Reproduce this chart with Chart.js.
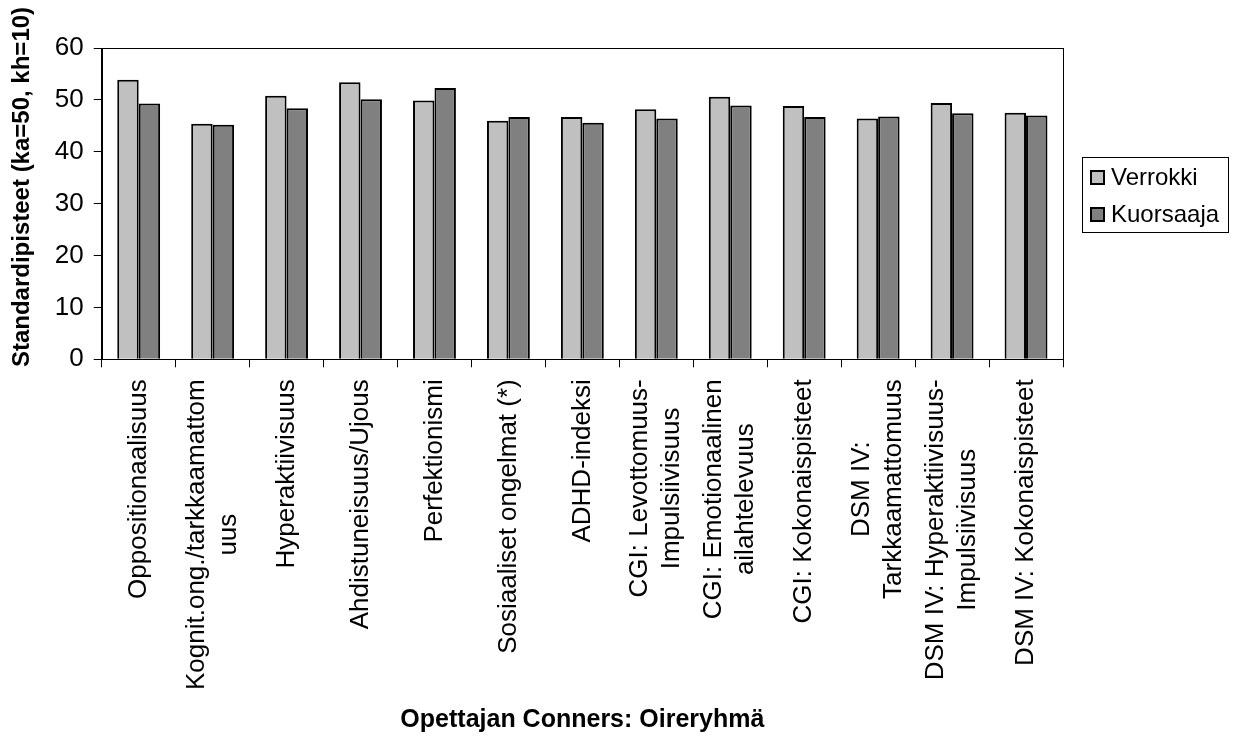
<!DOCTYPE html>
<html>
<head>
<meta charset="utf-8">
<script src="https://cdn.jsdelivr.net/npm/chart.js@4/dist/chart.umd.min.js"></script>
<style>
  body { margin: 0; background: #fff; }
  #wrap { width: 1234px; height: 740px; position: relative; }
</style>
</head>
<body>
<div id="wrap"><canvas id="chart"></canvas></div>
<script>
const categories = [
  ["Oppositionaalisuus"],
  ["Kognit.ong./tarkkaamattom", "uus"],
  ["Hyperaktiivisuus"],
  ["Ahdistuneisuus/Ujous"],
  ["Perfektionismi"],
  ["Sosiaaliset ongelmat (*)"],
  ["ADHD-indeksi"],
  ["CGI: Levottomuus-", "Impulsiivisuus"],
  ["CGI: Emotionaalinen", "ailahtelevuus"],
  ["CGI: Kokonaispisteet"],
  ["DSM IV:", "Tarkkaamattomuus"],
  ["DSM IV: Hyperaktiivisuus-", "Impulsiivisuus"],
  ["DSM IV: Kokonaispisteet"]
];

const verrokki = [53.9, 45.4, 50.8, 53.4, 49.9, 46.0, 46.7, 48.2, 50.6, 48.8, 46.4, 49.4, 47.5];
const kuorsaaja = [49.3, 45.2, 48.4, 50.1, 52.3, 46.7, 45.6, 46.4, 48.9, 46.7, 46.8, 47.4, 47.0];

const yTicks = [0, 10, 20, 30, 40, 50, 60];
const yTitle = "Standardipisteet (ka=50, kh=10)";

const FONT = "'Liberation Sans', Arial, sans-serif";

// plot frame, centred multi-line x labels, y title, boxed legend
const extras = {
  id: "extras",
  afterDraw(chart) {
    const ctx = chart.ctx;
    const a = chart.chartArea;
    ctx.save();
    ctx.strokeStyle = "#000";
    ctx.lineWidth = 1;
    ctx.strokeRect(Math.round(a.left) + 0.5, Math.round(a.top) + 0.5,
      Math.round(a.right - a.left), Math.round(a.bottom - a.top));

    const xs = chart.scales.x;
    ctx.font = "26px " + FONT;
    ctx.fillStyle = "#000";
    ctx.textBaseline = "middle";
    ctx.textAlign = "center";
    const lh = 32;
    const top = a.bottom + 20;
    categories.forEach((lines, i) => {
      const x = xs.getPixelForTick(i);
      const maxW = Math.max(...lines.map(l => ctx.measureText(l).width));
      ctx.save();
      ctx.translate(x, top);
      ctx.rotate(-Math.PI / 2);
      lines.forEach((l, j) => {
        ctx.fillText(l, -maxW / 2, (j - (lines.length - 1) / 2) * lh);
      });
      ctx.restore();
    });

    ctx.save();
    ctx.font = "bold 24px " + FONT;
    ctx.translate(22, 187);
    ctx.rotate(-Math.PI / 2);
    ctx.fillText(yTitle, 0, 0);
    ctx.restore();

    ctx.strokeStyle = "#000";
    ctx.strokeRect(1082.5, 157.5, 146, 75);
    ctx.font = "24px " + FONT;
    ctx.textAlign = "left";
    chart.data.datasets.forEach((ds, i) => {
      const cy = 177 + i * 37;
      ctx.fillStyle = ds.backgroundColor;
      ctx.fillRect(1091, cy - 6, 13, 13);
      ctx.strokeStyle = "#000";
      ctx.lineWidth = 2;
      ctx.strokeRect(1091, cy - 6, 13, 13);
      ctx.fillStyle = "#000";
      ctx.fillText(ds.label, 1111, cy + 1);
    });
    ctx.restore();
  }
};

new Chart(document.getElementById("chart"), {
  type: "bar",
  data: {
    labels: categories,
    datasets: [
      { label: "Verrokki", data: verrokki, backgroundColor: "#C0C0C0", borderColor: "#000", borderWidth: 2 },
      { label: "Kuorsaaja", data: kuorsaaja, backgroundColor: "#808080", borderColor: "#000", borderWidth: 2 }
    ]
  },
  options: {
    responsive: true,
    maintainAspectRatio: false,
    animation: false,
    layout: { padding: { left: 3, right: 171, top: 48, bottom: 2 } },
    datasets: { bar: { categoryPercentage: 0.58, barPercentage: 1.0 } },
    plugins: {
      legend: { display: false },
      tooltip: { enabled: false },
      title: {
        display: true, position: "bottom", fullSize: false,
        text: "Opettajan Conners: Oireryhmä", color: "#000",
        font: { family: FONT, size: 25, weight: "bold" },
        padding: { top: 15, bottom: 3 }
      }
    },
    scales: {
      x: {
        grid: { drawOnChartArea: false, tickLength: 8, color: "#000" },
        border: { color: "#000" },
        ticks: {
          minRotation: 90, maxRotation: 90, autoSkip: false, padding: 6,
          color: "rgba(0,0,0,0)",
          font: { family: FONT, size: 26 }
        }
      },
      y: {
        min: 0, max: 60,
        afterBuildTicks(scale) { scale.ticks = yTicks.map(v => ({ value: v })); },
        grid: { drawOnChartArea: false, tickLength: 8, color: "#000" },
        border: { color: "#000" },
        ticks: { color: "#000", padding: 10, font: { family: FONT, size: 26 } },
        title: {
          display: true, text: yTitle, color: "rgba(0,0,0,0)",
          font: { family: FONT, size: 24, weight: "bold" },
          padding: { top: 4, bottom: 9 }
        }
      }
    }
  },
  plugins: [extras]
});
</script>
</body>
</html>
